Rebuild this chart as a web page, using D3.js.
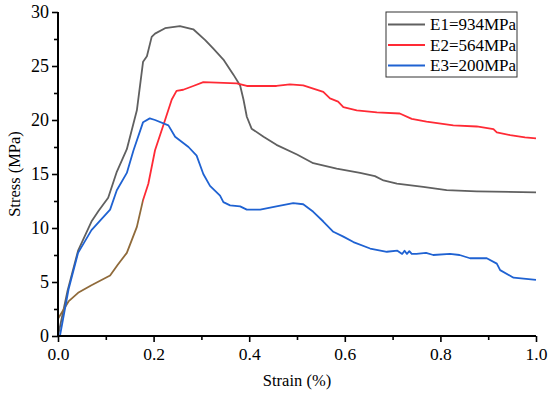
<!DOCTYPE html>
<html>
<head>
<meta charset="utf-8">
<script src="https://cdn.jsdelivr.net/npm/d3@7"></script>
<style>
  body { margin: 0; background: #fff; }
  svg text { font-family: "Liberation Serif", "Times New Roman", serif; fill: #000; }
</style>
</head>
<body>
<div class="container"></div>
<script>
// strain (%) / stress (MPa)
const e1Strain = [0, 0.02, 0.042, 0.07, 0.085, 0.105, 0.123, 0.144, 0.165, 0.178, 0.186, 0.196, 0.203, 0.224, 0.255, 0.283, 0.308, 0.325, 0.346, 0.367, 0.381, 0.388, 0.395, 0.405, 0.43, 0.457, 0.5, 0.534, 0.583, 0.632, 0.663, 0.681, 0.709, 0.764, 0.813, 0.876, 1.0];
const e1Stress = [0, 4.2, 7.9, 10.6, 11.6, 12.8, 15.2, 17.3, 20.9, 25.4, 25.9, 27.7, 28.0, 28.5, 28.7, 28.4, 27.4, 26.6, 25.6, 24.2, 23.2, 21.9, 20.3, 19.2, 18.45, 17.7, 16.8, 16.0, 15.5, 15.1, 14.8, 14.4, 14.1, 13.8, 13.5, 13.4, 13.3];

const e2Strain = [0, 0.022, 0.042, 0.07, 0.109, 0.125, 0.144, 0.165, 0.178, 0.189, 0.203, 0.224, 0.238, 0.248, 0.262, 0.283, 0.304, 0.374, 0.395, 0.457, 0.485, 0.513, 0.534, 0.555, 0.569, 0.586, 0.597, 0.625, 0.667, 0.715, 0.74, 0.771, 0.827, 0.876, 0.911, 0.918, 0.946, 0.977, 1.0];
const e2Stress = [1.6, 3.2, 4.0, 4.7, 5.6, 6.6, 7.7, 10.1, 12.6, 14.1, 17.2, 20.0, 21.9, 22.7, 22.8, 23.15, 23.5, 23.4, 23.15, 23.15, 23.3, 23.2, 22.9, 22.6, 22.0, 21.7, 21.2, 20.9, 20.7, 20.6, 20.1, 19.85, 19.5, 19.4, 19.15, 18.85, 18.6, 18.4, 18.3];

const e3Strain = [0.004, 0.022, 0.042, 0.07, 0.109, 0.123, 0.144, 0.158, 0.178, 0.192, 0.203, 0.231, 0.245, 0.273, 0.29, 0.304, 0.318, 0.339, 0.346, 0.36, 0.381, 0.395, 0.423, 0.457, 0.492, 0.513, 0.534, 0.555, 0.576, 0.597, 0.618, 0.653, 0.688, 0.71, 0.72, 0.725, 0.73, 0.735, 0.74, 0.75, 0.77, 0.785, 0.82, 0.84, 0.862, 0.897, 0.918, 0.925, 0.953, 1.0];
const e3Stress = [0, 4.3, 7.7, 9.8, 11.7, 13.5, 15.1, 17.2, 19.8, 20.15, 20.0, 19.5, 18.45, 17.5, 16.7, 15.0, 13.9, 13.0, 12.4, 12.1, 12.0, 11.7, 11.7, 12.0, 12.3, 12.2, 11.5, 10.6, 9.65, 9.2, 8.7, 8.1, 7.8, 7.9, 7.6, 7.9, 7.6, 7.85, 7.6, 7.6, 7.7, 7.5, 7.6, 7.5, 7.2, 7.2, 6.7, 6.1, 5.4, 5.2];

const seriesNames = ["E1=934MPa", "E2=564MPa", "E3=200MPa"];
const seriesColors = ["#606060", "#ff2a35", "#1f62d2"];

const xTicks = [0, 0.2, 0.4, 0.6, 0.8, 1.0];
const yTicks = [0, 5, 10, 15, 20, 25, 30];

const zip = (xs, ys) => xs.map((x, i) => ({ x: x, y: ys[i] }));
const series = [
  zip(e1Strain, e1Stress),
  zip(e2Strain, e2Stress),
  zip(e3Strain, e3Stress)
];

const width = 550;
const height = 394;
const margin = { top: 12, right: 14, bottom: 58, left: 58 };

const xScale = d3.scaleLinear().domain([0, 1]).range([margin.left, width - margin.right]);
const yScale = d3.scaleLinear().domain([0, 30]).range([height - margin.bottom, margin.top]);

const svg = d3.select(".container")
  .append("svg")
  .attr("width", width)
  .attr("height", height);

// E2 starts brownish in the source picture, then turns red
const grad = svg.append("defs").append("linearGradient")
  .attr("id", "e2grad")
  .attr("gradientUnits", "userSpaceOnUse")
  .attr("x1", xScale(0)).attr("x2", xScale(1))
  .attr("y1", 0).attr("y2", 0);
const cut = 0.178;
grad.append("stop").attr("offset", 0).attr("stop-color", "#8f6a3a");
grad.append("stop").attr("offset", cut).attr("stop-color", "#8f6a3a");
grad.append("stop").attr("offset", cut).attr("stop-color", seriesColors[1]);
grad.append("stop").attr("offset", 1).attr("stop-color", seriesColors[1]);

const line = d3.line()
  .x(d => xScale(d.x))
  .y(d => yScale(d.y));

svg.append("g")
  .attr("id", "lines")
  .selectAll("path")
  .data(series)
  .enter()
  .append("path")
  .attr("d", line)
  .attr("fill", "none")
  .attr("stroke", (d, i) => (i === 1 ? "url(#e2grad)" : seriesColors[i]))
  .attr("stroke-width", 1.8)
  .attr("stroke-linejoin", "round");

// axes
const xAxis = svg.append("g")
  .attr("transform", `translate(0,${height - margin.bottom})`)
  .call(d3.axisBottom(xScale).tickValues(xTicks).tickFormat(d3.format(".1f")).tickSize(6).tickPadding(6));

svg.append("g")
  .attr("transform", `translate(0,${height - margin.bottom})`)
  .call(d3.axisBottom(xScale).tickValues(d3.range(0.1, 1, 0.2)).tickFormat("").tickSize(4))
  .select(".domain").remove();

const yAxis = svg.append("g")
  .attr("transform", `translate(${margin.left},0)`)
  .call(d3.axisLeft(yScale).tickValues(yTicks).tickSize(6).tickPadding(3));

svg.append("g")
  .attr("transform", `translate(${margin.left},0)`)
  .call(d3.axisLeft(yScale).tickValues(d3.range(2.5, 30, 5)).tickFormat("").tickSize(4))
  .select(".domain").remove();

svg.selectAll(".domain").attr("stroke", "#000").attr("stroke-width", 2);
svg.selectAll(".tick line").attr("stroke", "#000").attr("stroke-width", 1.6);
svg.selectAll(".tick text")
  .style("font-family", '"Liberation Serif", "Times New Roman", serif');
xAxis.selectAll(".tick text").style("font-size", "17.5px");
yAxis.selectAll(".tick text").style("font-size", "18px");

xAxis.selectAll(".domain").attr("d", `M${xScale(0)},0H${xScale(1)}`);
yAxis.selectAll(".domain").attr("d", `M0,${yScale(0)}V${yScale(30)}`);

// axis titles
svg.append("text")
  .attr("x", (margin.left + width - margin.right) / 2)
  .attr("y", 386)
  .attr("text-anchor", "middle")
  .style("font-size", "16.5px")
  .text("Strain (%)");

svg.append("text")
  .attr("transform", `translate(20,${(margin.top + height - margin.bottom) / 2}) rotate(-90)`)
  .attr("text-anchor", "middle")
  .style("font-size", "16.5px")
  .text("Stress (MPa)");

// legend
const legend = svg.append("g").attr("transform", "translate(386,12)");
legend.append("rect")
  .attr("width", 131)
  .attr("height", 65)
  .attr("fill", "#fff")
  .attr("stroke", "#333")
  .attr("stroke-width", 1);

const items = legend.selectAll(".item")
  .data(seriesNames)
  .enter()
  .append("g")
  .attr("class", "item")
  .attr("transform", (d, i) => `translate(0,${12.5 + i * 20.5})`);

items.append("line")
  .attr("x1", 2).attr("x2", 39)
  .attr("y1", 0).attr("y2", 0)
  .attr("stroke", (d, i) => seriesColors[i])
  .attr("stroke-width", 2);

items.append("text")
  .attr("x", 44)
  .attr("y", 5.5)
  .style("font-size", "17px")
  .text(d => d);
</script>
</body>
</html>
